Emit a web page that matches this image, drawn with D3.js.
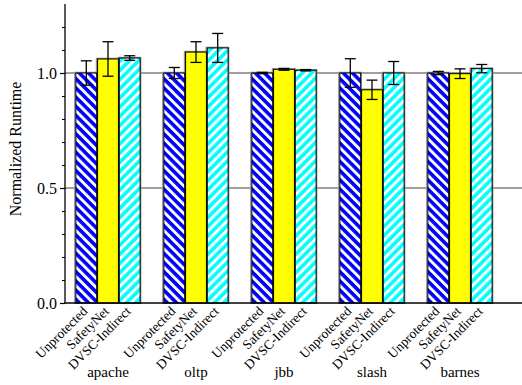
<!DOCTYPE html>
<html><head><meta charset="utf-8">
<script src="https://cdn.jsdelivr.net/npm/d3@7"></script>
<style>body{margin:0;background:#fff}svg{display:block}</style>
</head><body><div id="chart"></div>
<script>
const categories = ["apache","oltp","jbb","slash","barnes"];
const seriesNames = ["Unprotected","SafetyNet","DVSC-Indirect"];
const unprotected = [1.0, 1.0, 1.0, 1.0, 1.0];
const unprotectedErr = [0.053, 0.024, 0.003, 0.062, 0.007];
const safetyNet = [1.061, 1.091, 1.016, 0.927, 0.997];
const safetyNetErr = [0.075, 0.045, 0.004, 0.042, 0.021];
const dvsc = [1.065, 1.109, 1.012, 1.0, 1.019];
const dvscErr = [0.01, 0.063, 0.003, 0.05, 0.018];
const yTicks = [0.0, 0.5, 1.0];
const yMinorTicks = [0.1,0.2,0.3,0.4,0.6,0.7,0.8,0.9,1.1,1.2];

const FONT = "Liberation Serif";
const W = 522, H = 385;
const svg = d3.select("#chart").append("svg").attr("width", W).attr("height", H);
const defs = svg.append("defs");
function stripe(id, color, angle){
  const p = defs.append("pattern").attr("id", id).attr("patternUnits","userSpaceOnUse")
    .attr("width", 6.5).attr("height", 6.5).attr("patternTransform", `rotate(${angle})`);
  p.append("rect").attr("width", 6.5).attr("height", 6.5).attr("fill", color);
  p.append("rect").attr("width", 2.9).attr("height", 6.5).attr("fill", "#fff");
}
stripe("pBlue", "#0000ff", -45);
stripe("pCyan", "#00ffff", 45);
const fills = ["url(#pBlue)", "#ffff00", "url(#pCyan)"];

const x0 = d3.scaleBand().domain(categories).range([64, 504]).paddingInner(0).paddingOuter(0);
const x1 = d3.scaleBand().domain(seriesNames).range([11, 77]).padding(0.04);
const y = d3.scaleLinear().domain([0, 1.3]).range([303, 4]);
const left = 65, right = 522;

svg.append("g").selectAll("line").data([0.5, 1.0]).join("line")
  .attr("x1", left).attr("x2", right).attr("y1", d => y(d)).attr("y2", d => y(d))
  .attr("stroke", "#808080").attr("stroke-width", 1.5);

const data = categories.map((c, i) => ({
  cat: c,
  vals: [
    {s: seriesNames[0], v: unprotected[i], e: unprotectedErr[i], k: 0},
    {s: seriesNames[1], v: safetyNet[i], e: safetyNetErr[i], k: 1},
    {s: seriesNames[2], v: dvsc[i], e: dvscErr[i], k: 2}
  ]
}));

const g = svg.append("g").selectAll("g").data(data).join("g")
  .attr("transform", d => `translate(${x0(d.cat)},0)`);
g.selectAll("rect.sh").data(d => d.vals).join("rect").attr("class","sh")
  .attr("x", d => x1(d.s) - 1).attr("y", d => y(d.v) - 0.5)
  .attr("width", x1.bandwidth() + 1.5).attr("height", d => y(0) - y(d.v) + 0.5)
  .attr("fill", "none").attr("stroke", "#909090").attr("stroke-width", 1.5);
g.selectAll("rect.bar").data(d => d.vals).join("rect").attr("class","bar")
  .attr("x", d => x1(d.s)).attr("y", d => y(d.v))
  .attr("width", x1.bandwidth()).attr("height", d => y(0) - y(d.v))
  .attr("fill", d => fills[d.k]).attr("stroke", "#000").attr("stroke-width", 1);
const eb = g.selectAll("g.eb").data(d => d.vals).join("g").attr("class","eb")
  .attr("stroke", "#000").attr("stroke-width", 1.3);
const cx = d => x1(d.s) + x1.bandwidth()/2;
eb.append("line").attr("x1", cx).attr("x2", cx)
  .attr("y1", d => y(d.v + d.e)).attr("y2", d => y(d.v - d.e));
eb.append("line").attr("x1", d => cx(d) - 5.5).attr("x2", d => cx(d) + 5.5)
  .attr("y1", d => y(d.v + d.e)).attr("y2", d => y(d.v + d.e));
eb.append("line").attr("x1", d => cx(d) - 5.5).attr("x2", d => cx(d) + 5.5)
  .attr("y1", d => y(d.v - d.e)).attr("y2", d => y(d.v - d.e));

g.selectAll("text.sl").data(d => d.vals).join("text").attr("class","sl")
  .attr("transform", d => `translate(${cx(d) + 2},${312}) rotate(-45)`)
  .attr("text-anchor", "end").attr("font-family", FONT).attr("font-size", 13.5).attr("fill", "#000")
  .text(d => d.s);
g.append("text").attr("x", 44).attr("y", 377).attr("text-anchor", "middle")
  .attr("font-family", FONT).attr("font-size", 15).text(d => d.cat);

const yAxis = d3.axisLeft(y).tickValues(yTicks).tickFormat(d3.format(".1f")).tickSize(5).tickPadding(3);
const ya = svg.append("g").attr("transform", `translate(${left},0)`).call(yAxis);
ya.attr("font-family", FONT).attr("font-size", 16);
ya.select(".domain").attr("d", `M0,${y(0)}V${y(1.3)}`).attr("stroke-width", 1.3);
ya.selectAll("text").attr("fill", "#000");
ya.selectAll(".tick line").attr("stroke-width", 1.2);
const yMinor = d3.axisLeft(y).tickValues(yMinorTicks).tickSize(3).tickFormat("");
const ym = svg.append("g").attr("transform", `translate(${left},0)`).call(yMinor);
ym.select(".domain").remove();
svg.append("line").attr("x1", left - 0.5).attr("x2", right).attr("y1", y(0)).attr("y2", y(0))
  .attr("stroke", "#000").attr("stroke-width", 1.5);

svg.append("text").attr("transform", `translate(21,${y(0.67)}) rotate(-90)`)
  .attr("text-anchor", "middle").attr("font-family", FONT).attr("font-size", 16).text("Normalized Runtime");
</script></body></html>
